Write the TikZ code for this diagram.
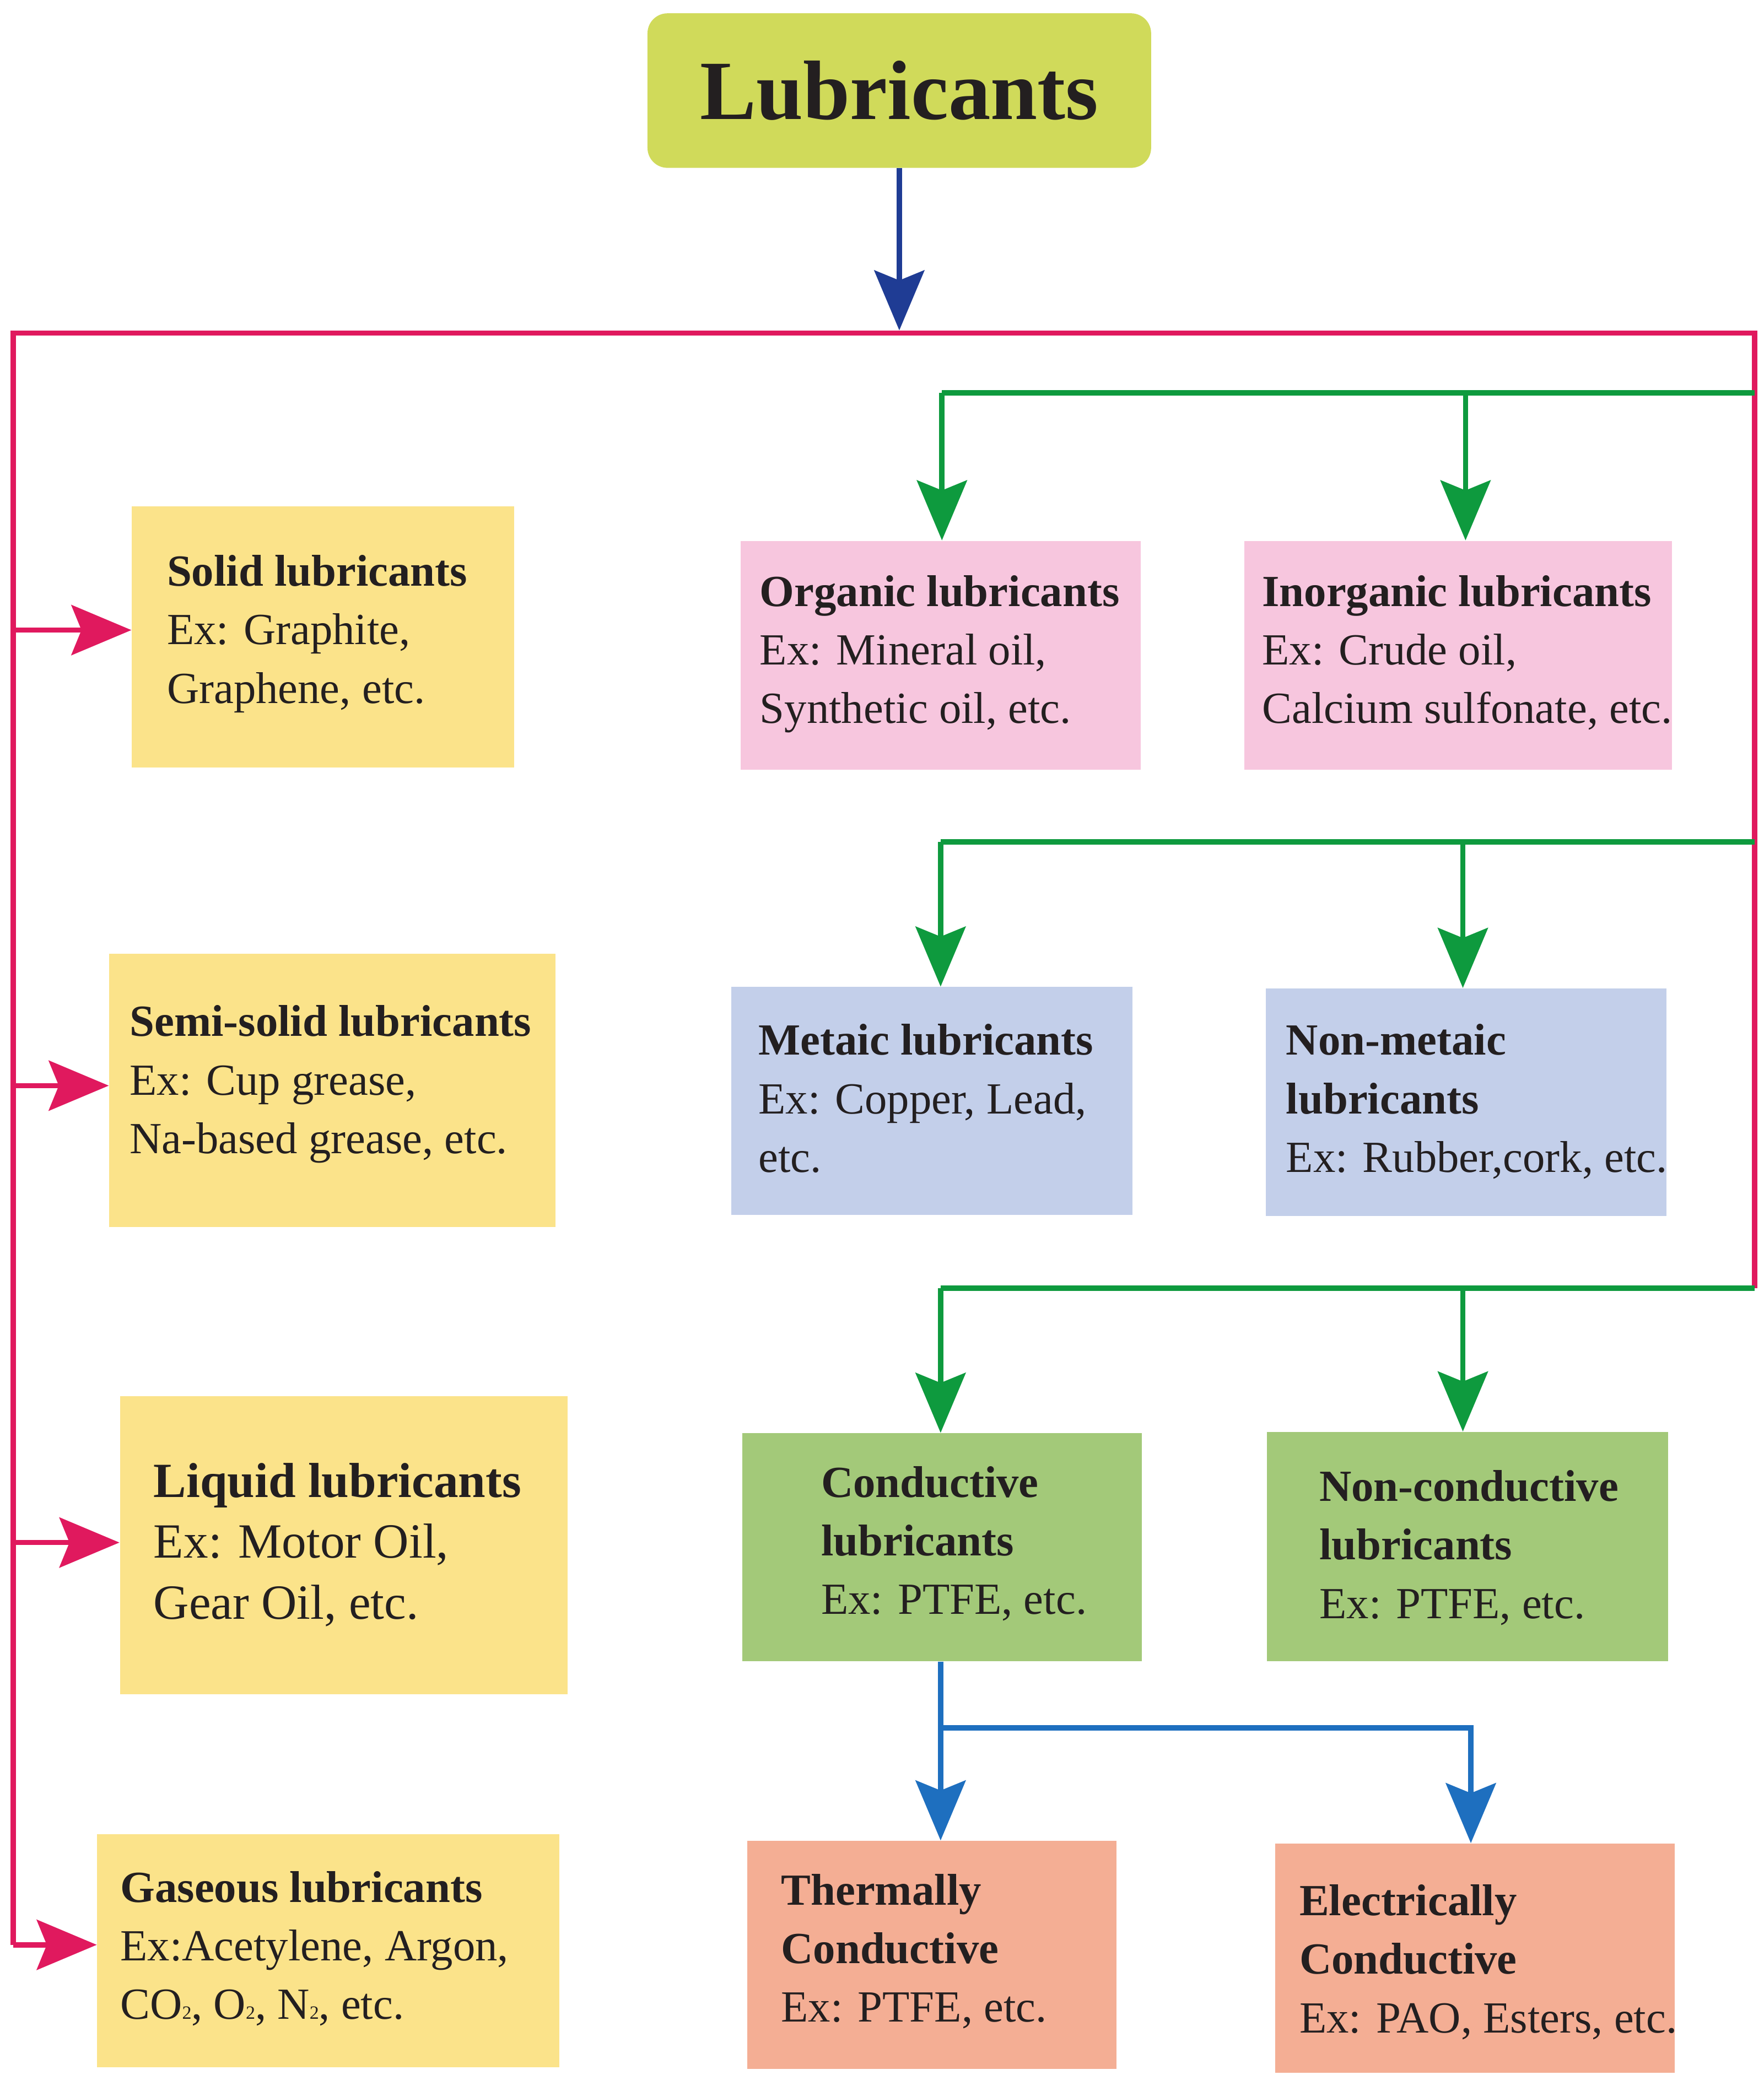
\documentclass[tikz,border=0pt]{standalone}
\usepackage{fontspec}
\setmainfont{Liberation Serif}
\usetikzlibrary{arrows.meta}
\definecolor{ttl}{HTML}{D0DA5A}
\definecolor{yel}{HTML}{FBE38A}
\definecolor{pnk}{HTML}{F7C6DE}
\definecolor{lbl}{HTML}{C3CFEA}
\definecolor{grn}{HTML}{A3C979}
\definecolor{sal}{HTML}{F4AE94}
\definecolor{red}{HTML}{E0195E}
\definecolor{gln}{HTML}{0E9A3E}
\definecolor{dbl}{HTML}{1F3C94}
\definecolor{bln}{HTML}{1E6FBF}
\definecolor{txt}{HTML}{231F20}
\newcommand\bx[6]{\node[fill=#6,inner sep=0,minimum width={(#3-#1)*0.2mm},minimum height={(#4-#2)*0.2mm}] (#5) at ({(#1+#3)/2},{(#2+#4)/2}) {};}
\newcommand\tx[4]{\node[txt,anchor=base west,inner sep=0,font=\fontsize{19}{25}\selectfont] (#1) at (#2,#3) {\begin{tabular}[t]{@{}l@{}}#4\end{tabular}};}
\begin{document}
\begin{tikzpicture}[x=0.2mm,y=-0.2mm,
  arr/.style={line width=0.8mm,-{Stealth[length=9mm,width=7.5mm,inset=1.5mm]}}]
\useasboundingbox[fill=white] (0,0) rectangle (1324,1566);
\node[fill=ttl,rounded corners=3mm,minimum width={378*0.2mm},minimum height={116*0.2mm},font=\bfseries\fontsize{36}{40}\selectfont,text=txt] (lub) at (675,68) {Lubricants};
\bx{99}{380}{386}{576}{solid}{yel}
\bx{82}{716}{417}{921}{semi}{yel}
\bx{90}{1048}{426}{1272}{liq}{yel}
\bx{73}{1377}{420}{1552}{gas}{yel}
\bx{556}{406}{856}{578}{org}{pnk}
\bx{934}{406}{1255}{578}{inorg}{pnk}
\bx{549}{741}{850}{912}{met}{lbl}
\bx{950}{742}{1251}{913}{nmet}{lbl}
\bx{557}{1076}{857}{1247}{cond}{grn}
\bx{951}{1075}{1252}{1247}{ncond}{grn}
\bx{561}{1382}{838}{1553}{therm}{sal}
\bx{957}{1384}{1257}{1556}{elec}{sal}
% texts
\tx{t1}{125}{440}{\textbf{Solid lubricants}\\Ex: Graphite,\\Graphene, etc.}
\tx{t2}{97}{778}{\textbf{Semi-solid lubricants}\\Ex: Cup grease,\\Na-based grease, etc.}
\node[txt,anchor=base west,inner sep=0,font=\fontsize{21}{26}\selectfont] (t3) at (115,1124) {\begin{tabular}[t]{@{}l@{}}\textbf{Liquid lubricants}\\Ex: Motor Oil,\\Gear Oil, etc.\end{tabular}};
\tx{t4}{90}{1428}{\textbf{Gaseous lubricants}\\Ex:Acetylene, Argon,\\CO{\footnotesize 2}, O{\footnotesize 2}, N{\footnotesize 2}, etc.}
\tx{t5}{570}{455}{\textbf{Organic lubricants}\\Ex: Mineral oil,\\Synthetic oil, etc.}
\tx{t6}{947}{455}{\textbf{Inorganic lubricants}\\Ex: Crude oil,\\Calcium sulfonate, etc.}
\tx{t7}{569}{792}{\textbf{Metaic lubricants}\\Ex: Copper, Lead,\\etc.}
\tx{t8}{965}{792}{\textbf{Non-metaic}\\\textbf{lubricants}\\Ex: Rubber,cork, etc.}
\tx{t9}{616}{1124}{\textbf{Conductive}\\\textbf{lubricants}\\Ex: PTFE, etc.}
\tx{t10}{990}{1127}{\textbf{Non-conductive}\\\textbf{lubricants}\\Ex: PTFE, etc.}
\tx{t11}{586}{1430}{\textbf{Thermally}\\\textbf{Conductive}\\Ex: PTFE, etc.}
\tx{t12}{975}{1438}{\textbf{Electrically}\\\textbf{Conductive}\\Ex: PAO, Esters, etc.}
% connectors
\draw[arr,dbl] (lub.south) -- (675,248);
\draw[red,line width=0.8mm] (10,1460) -- (10,250) -- (1317,250) -- (1317,967);
\coordinate (s1) at (10,473); \coordinate (s2) at (10,815);
\coordinate (s3) at (10,1158); \coordinate (s4) at (10,1460);
\draw[arr,red] (s1) -- (s1 -| solid.west);
\draw[arr,red] (s2) -- (s2 -| semi.west);
\draw[arr,red] (s3) -- (s3 -| liq.west);
\draw[arr,red] (s4) -- (s4 -| gas.west);
\draw[gln,line width=0.8mm] (707,295) -- (1317,295);
\draw[arr,gln] (707,295) -- (707,0 |- org.north);
\draw[arr,gln] (1100,295) -- (1100,0 |- inorg.north);
\draw[gln,line width=0.8mm] (706,632) -- (1317,632);
\draw[arr,gln] (706,632) -- (706,0 |- met.north);
\draw[arr,gln] (1098,632) -- (1098,0 |- nmet.north);
\draw[gln,line width=0.8mm] (706,967) -- (1317,967);
\draw[arr,gln] (706,967) -- (706,0 |- cond.north);
\draw[arr,gln] (1098,967) -- (1098,0 |- ncond.north);
\draw[arr,bln] (706,0 |- cond.south) -- (706,0 |- therm.north);
\draw[arr,bln] (706,1297) -- (1104,1297) -- (1104,0 |- elec.north);
\end{tikzpicture}
\end{document}
